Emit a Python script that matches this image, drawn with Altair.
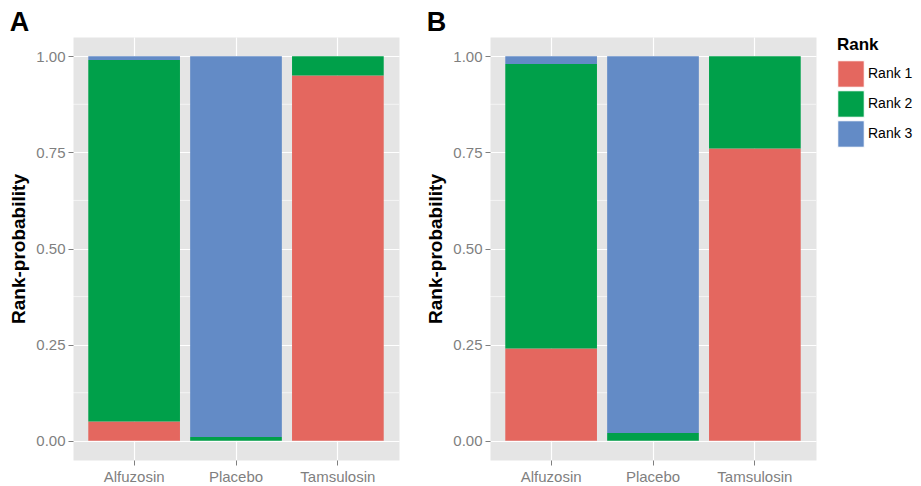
import altair as alt
import pandas as pd

treatments = ["Alfuzosin", "Placebo", "Tamsulosin"]
ranks = ["Rank 1", "Rank 2", "Rank 3"]

# Panel A rank probabilities (per treatment)
a_rank1 = [0.05, 0.00, 0.95]
a_rank2 = [0.94, 0.01, 0.05]
a_rank3 = [0.01, 0.99, 0.00]

# Panel B rank probabilities (per treatment)
b_rank1 = [0.24, 0.00, 0.76]
b_rank2 = [0.74, 0.02, 0.24]
b_rank3 = [0.02, 0.98, 0.00]

y_ticks = [0, 0.25, 0.5, 0.75, 1.0]
y_minor = [0.125, 0.375, 0.625, 0.875]

colors = ["#E4675F", "#00A04A", "#638BC6"]

FONT = "Liberation Sans"


def make_df(r1, r2, r3):
    rows = []
    for series, vals in zip(ranks, [r1, r2, r3]):
        for t, v in zip(treatments, vals):
            rows.append({"treatment": t, "rank": series, "prob": v,
                         "ord": ranks.index(series)})
    return pd.DataFrame(rows)


yscale = alt.Scale(domain=[-0.05, 1.05], nice=False, zero=False)


def y_axis():
    return alt.Axis(title="Rank-probability", values=y_ticks,
                    format=".2f", tickSize=5, labelPadding=3,
                    titlePadding=7)


def panel(df, letter):
    minor = alt.Chart(pd.DataFrame({"v": y_minor})).mark_rule(
        color="white", strokeWidth=0.6
    ).encode(y=alt.Y("v:Q", scale=yscale, axis=y_axis()))

    bars = alt.Chart(df).mark_bar().encode(
        x=alt.X("treatment:N", sort=treatments,
                scale=alt.Scale(paddingInner=0.1, paddingOuter=0.15),
                axis=alt.Axis(title=None, labelAngle=0, labelPadding=4,
                              tickSize=5)),
        y=alt.Y("prob:Q", stack="zero", scale=yscale, axis=y_axis()),
        color=alt.Color("rank:N", sort=ranks,
                        scale=alt.Scale(domain=ranks, range=colors),
                        legend=alt.Legend(title="Rank", rowPadding=-7)),
        order=alt.Order("ord:Q", sort="ascending"),
    )
    return alt.layer(minor, bars).properties(
        width=326, height=423,
        title=alt.TitleParams(letter, anchor="start", frame="bounds",
                              font=FONT, fontSize=27, fontWeight="bold",
                              color="black", offset=0),
    )


chart = alt.hconcat(
    panel(make_df(a_rank1, a_rank2, a_rank3), "A"),
    panel(make_df(b_rank1, b_rank2, b_rank3), "B"),
    spacing=26,
).properties(
    padding={"left": 1, "top": 0, "right": 0, "bottom": 0}
).configure_view(
    fill="#E5E5E5", stroke="transparent"
).configure_axis(
    grid=True, gridColor="white", gridWidth=1.2, domain=False,
    tickColor="#7F7F7F", labelColor="#7F7F7F", labelFont=FONT,
    labelFontSize=15, titleFont=FONT, titleFontSize=19,
    titleFontWeight="bold", titleColor="black",
).configure_legend(
    titleFont=FONT, titleFontSize=17, titleFontWeight="bold",
    titleColor="black", labelFont=FONT, labelFontSize=14,
    labelColor="black", symbolType="square", symbolSize=700,
    symbolStrokeWidth=1, symbolStrokeColor="white", symbolOpacity=1,
    offset=20, padding=0, titlePadding=6, labelOffset=3, rowPadding=-7,
)

chart.save("out.html", embed_options={"renderer": "svg", "actions": False})
